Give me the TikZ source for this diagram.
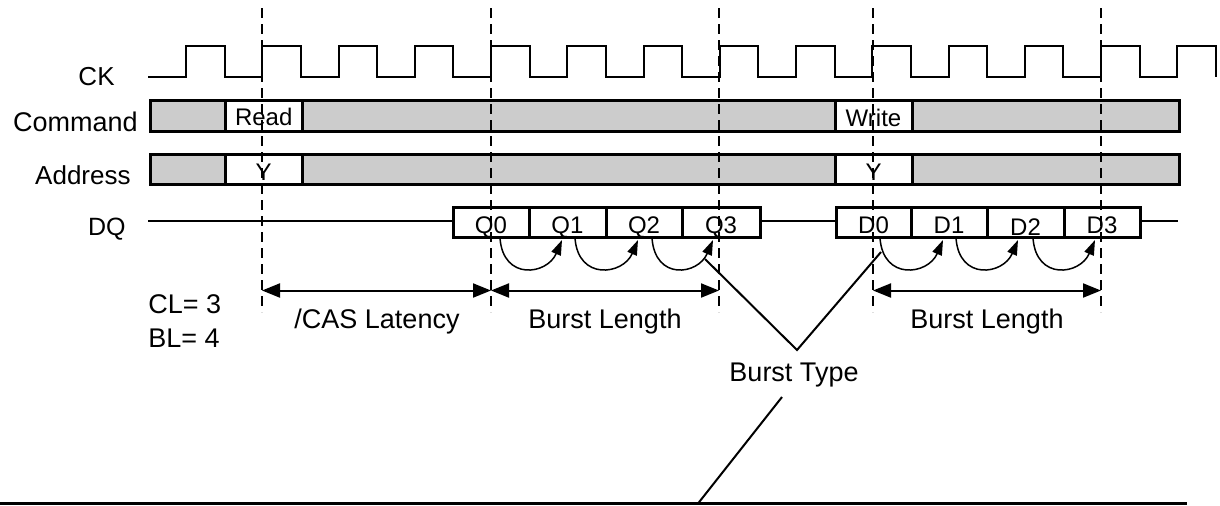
\documentclass[tikz,border=0pt]{standalone}
\usepackage{fontspec}
\setmainfont{Liberation Sans}
\usetikzlibrary{arrows.meta}
\definecolor{barfill}{gray}{0.8}
\begin{document}
\begin{tikzpicture}[x=0.5pt,y=-0.5pt,
  bar/.style={draw=black,line width=1.5pt,fill=barfill},
  cell/.style={draw=black,line width=1.5pt,fill=white},
  sig/.style={font=\fontsize{13}{15}\selectfont,anchor=base east,inner sep=0pt},
  intext/.style={font=\fontsize{12}{14}\selectfont,anchor=base,inner sep=0pt},
  note/.style={font=\fontsize{13.5}{16}\selectfont,anchor=base,inner sep=0pt},
  clk/.style={line width=1pt,line join=miter},
  guide/.style={line width=1pt,dash pattern=on 5pt off 3pt},
  dimline/.style={line width=1pt,{Triangle[length=9pt,width=7pt]}-{Triangle[length=9pt,width=7pt]}},
  seq/.style={line width=0.75pt,-{Triangle[length=7.5pt,width=5pt]}},
  pointer/.style={line width=1pt},
  wire/.style={line width=0.75pt}
]
\useasboundingbox (0,0) rectangle (1220,505);

% signal names
\node[sig] (lck) at (115,85) {CK};
\node[sig,font=\fontsize{13.5}{15}\selectfont] (lcmd) at (138,131) {Command};
\node[sig] (laddr) at (131,184) {Address};
\node[sig,font=\fontsize{12.5}{15}\selectfont] (ldq) at (126,235) {DQ};

% clock
\draw[clk] (148,77) foreach \k in {0,...,13} {
  -- ({186+76.25*\k},77) -- ({186+76.25*\k},46)
  -- ({224.5+76.25*\k},46) -- ({224.5+76.25*\k},77) };

% command bus
\draw[bar] (150,100.5) rectangle (1179,131);
\draw[cell] (225,100.5) rectangle (302.5,131);
\draw[cell] (835,100.5) rectangle (912,131);
\node[intext] (read) at (263.75,125) {Read};
\node[intext] (write) at (873.5,126) {Write};

% address bus
\draw[bar] (150,154) rectangle (1179,184);
\draw[cell] (225,154) rectangle (302.5,184);
\draw[cell] (835,154) rectangle (912,184);
\node[intext] (ya) at (263.75,180) {Y};
\node[intext] (yb) at (873.5,180) {Y};

% DQ
\draw[wire] (148,221) -- (453,221);
\draw[wire] (760,221) -- (836,221);
\draw[wire] (1140,221) -- (1178,221);
\foreach \a/\b/\t [count=\i from 0] in {453/529/Q0,529/606/Q1,606/682/Q2,682/760/Q3}{
  \draw[cell] (\a,207) rectangle (\b,237);
  \node[intext] (q\i) at ({(\a+\b)/2},233) {\t};
}
\foreach \a/\b/\t/\yb [count=\i from 0] in {836/911/D0/233,911/987/D1/233,987/1064/D2/235,1064/1140/D3/233}{
  \draw[cell] (\a,207) rectangle (\b,237);
  \node[intext] (d\i) at ({(\a+\b)/2},\yb) {\t};
}

% burst order arcs
\foreach \s/\e in {500/562,575/638,652/713,880/943,956/1018,1033/1095}{
  \draw[seq] (\s,238) .. controls (\s+3,281) and (\e-15,275) .. (\e,240);
}

% guide lines
\foreach \x [count=\i] in {262,491,719,873,1101}{
  \draw[guide] (\x,8) -- (\x,312);
  \coordinate (g\i) at (\x,290.5);
}

% dimension arrows
\draw[dimline] (g1) -- (g2);
\draw[dimline] (g2) -- (g3);
\draw[dimline] (g4) -- (g5);

% notes
\node[note,anchor=base west] (cl) at (148,313) {CL= 3};
\node[note,anchor=base west] (bl) at (148,347) {BL= 4};
\node[note] (cas) at (377,328) {/CAS Latency};
\node[note] (bla) at (605,328) {Burst Length};
\node[note] (blb) at (987,328) {Burst Length};
\node[note] (bt) at (794,381) {Burst Type};

% burst type pointers
\coordinate (pq) at (705,259);
\coordinate (pv) at (797,350);
\coordinate (pd) at (881,252);
\coordinate (pt) at (782,397);
\coordinate (pb) at (698,503.5);
\draw[pointer] (pq) -- (pv) -- (pd);
\draw[pointer] (pt) -- (pb);

% base line
\coordinate (b0) at (0,503.5);
\coordinate (b1) at (1187,503.5);
\draw[line width=1.5pt] (b0) -- (b1);
\end{tikzpicture}
\end{document}
